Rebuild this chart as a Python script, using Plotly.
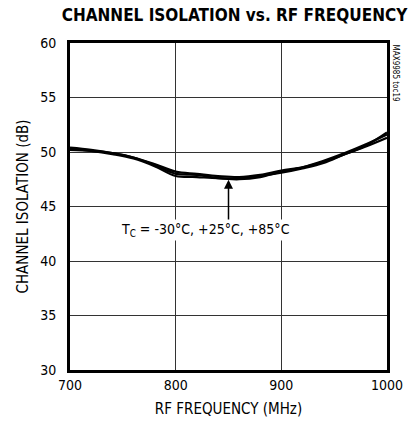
import plotly.graph_objects as go

# 通道隔離度 vs. RF 頻率
freq = [700, 720, 740, 760, 780, 800, 820, 840, 860, 880, 900, 920, 940, 960, 980, 1000]
iso_m30 = [50.4, 50.2, 49.9, 49.5, 48.9, 48.2, 48.0, 47.8, 47.7, 47.9, 48.3, 48.6, 49.1, 49.8, 50.6, 51.8]
iso_p25 = [50.3, 50.1, 49.8, 49.4, 48.7, 47.8, 47.7, 47.6, 47.6, 47.8, 48.1, 48.5, 49.0, 49.8, 50.5, 51.3]
iso_p85 = [50.2, 50.1, 49.9, 49.5, 48.8, 48.0, 47.9, 47.6, 47.5, 47.7, 48.2, 48.6, 49.2, 49.9, 50.7, 51.6]

FONT = 'DejaVu Sans Condensed, Roboto Condensed, Liberation Sans Narrow, Roboto, sans-serif'

fig = go.Figure()
for ys in [iso_m30, iso_p25, iso_p85]:
    fig.add_trace(go.Scatter(x=freq, y=ys, mode='lines', line=dict(color='black', width=2.2, shape='spline'),
                             showlegend=False))

# 箭頭與標註
fig.add_annotation(x=850, y=47.45, ax=850, ay=42.3, xref='x', yref='y', axref='x', ayref='y',
                   showarrow=True, arrowhead=2, arrowsize=1.2, arrowwidth=1.5, arrowcolor='black', text=' ')
fig.add_annotation(x=828, y=42.8, xref='x', yref='y', showarrow=False,
                   text='T<sub>C</sub> = -30°C, +25°C, +85°C', font=dict(family=FONT, size=14, color='black'),
                   bgcolor='white')
fig.add_annotation(x=1.028, y=1.0, xref='paper', yref='paper', showarrow=False, textangle=90,
                   text='MAX9985 toc19', font=dict(family=FONT, size=8, color='black'),
                   xanchor='center', yanchor='top')

fig.update_layout(
    width=415, height=433,
    margin=dict(l=70, r=15, t=43, b=63),
    paper_bgcolor='white', plot_bgcolor='white',
    font=dict(family=FONT, size=14, color='black'),
    title=dict(text='<b>CHANNEL ISOLATION vs. RF FREQUENCY</b>', x=0.565, xanchor='center', y=0.978,
               font=dict(family=FONT, size=17)),
    xaxis=dict(range=[700, 1000], dtick=100, showgrid=True, gridcolor='#333', gridwidth=1,
               showline=True, linecolor='black', linewidth=3, mirror=True, ticks='',
               ticklabeloverflow='allow', tickfont=dict(family=FONT, size=14),
               title=dict(text='RF FREQUENCY (MHz)', standoff=12, font=dict(family=FONT, size=15)),
               zeroline=False),
    yaxis=dict(range=[30, 60], dtick=5, showgrid=True, gridcolor='#333', gridwidth=1,
               showline=True, linecolor='black', linewidth=3, mirror=True, ticks='',
               ticklabelstandoff=8, tickfont=dict(family=FONT, size=14),
               title=dict(text='CHANNEL ISOLATION (dB)', standoff=8, font=dict(family=FONT, size=15)),
               zeroline=False),
)

# 去掉 body 預設邊距，避免出現捲軸
fig.write_html("out.html", config={'displayModeBar': False},
               post_script="document.body.style.margin='0';document.body.style.overflow='hidden';")
